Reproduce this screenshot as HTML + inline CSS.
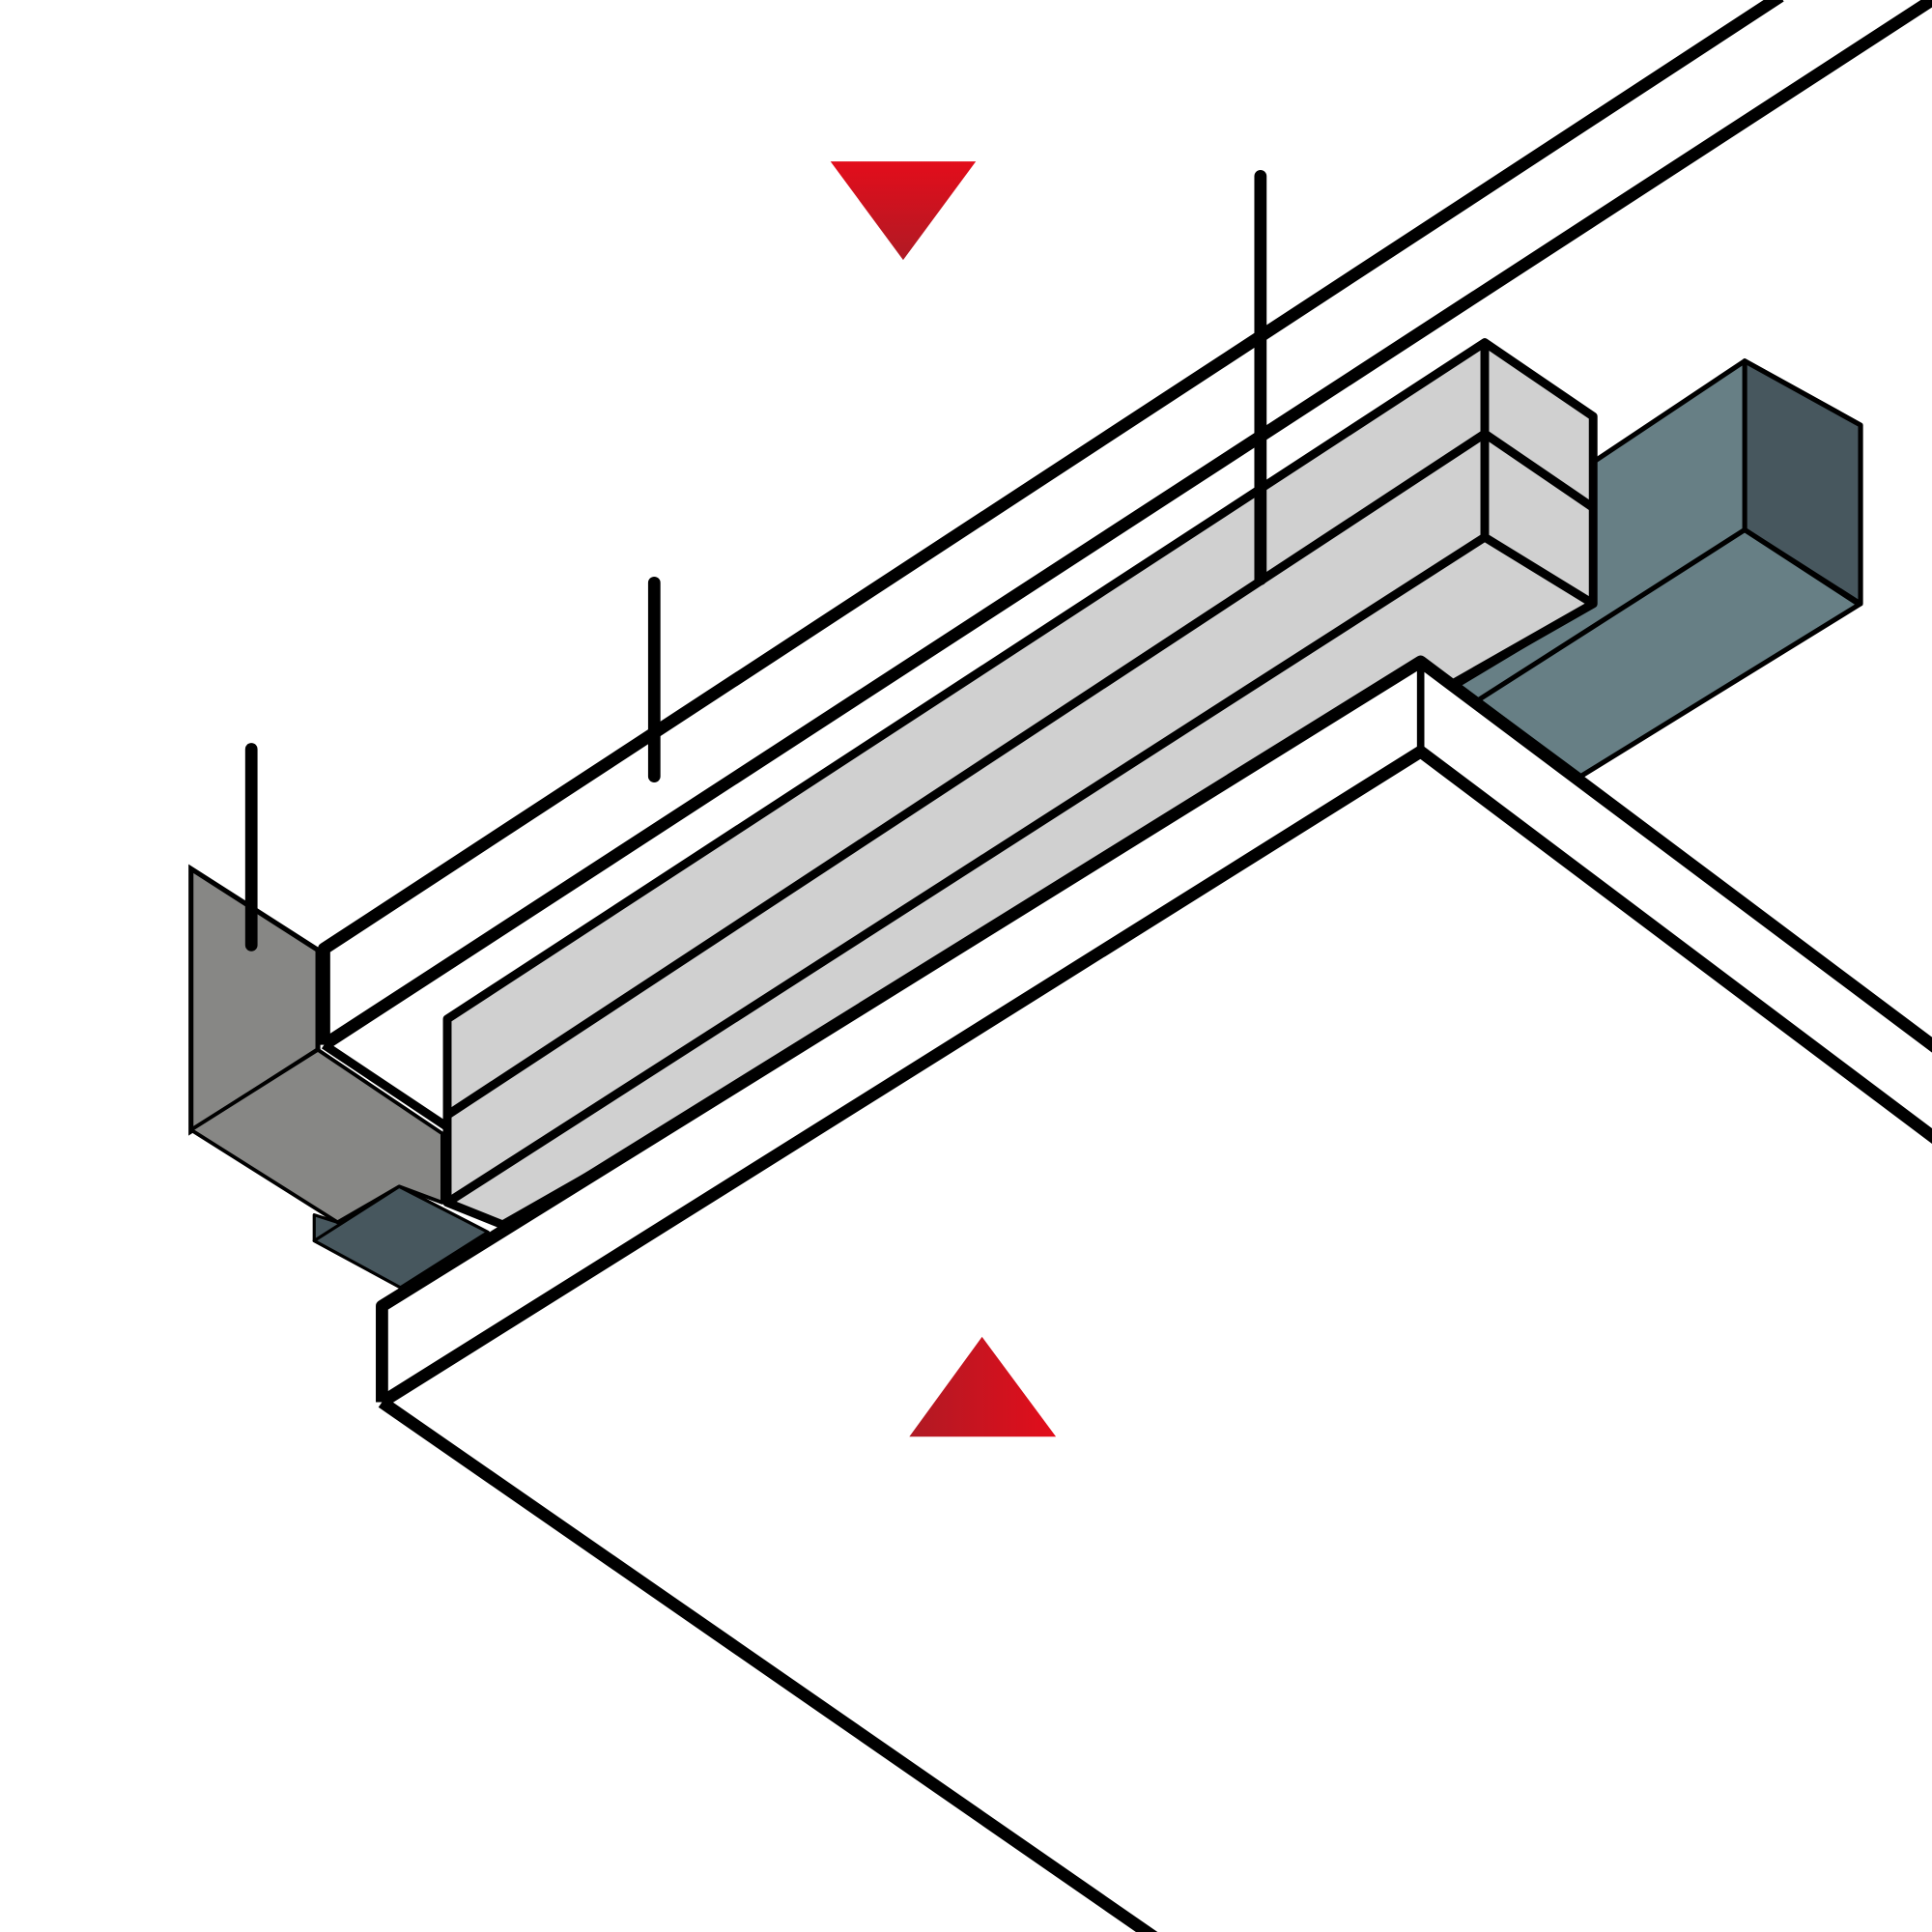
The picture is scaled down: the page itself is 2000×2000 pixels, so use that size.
<!DOCTYPE html>
<html><head><style>html,body{margin:0;padding:0;background:#fff}svg{display:block}</style></head>
<body>
<svg width="2000" height="2000" viewBox="0 0 1568 1568" xmlns="http://www.w3.org/2000/svg">
<defs>
<linearGradient id="g1" x1="0" y1="0" x2="0" y2="1"><stop offset="0" stop-color="#e30d1b"/><stop offset="1" stop-color="#b01a24"/></linearGradient>
<linearGradient id="g2" x1="0" y1="0" x2="1" y2="0"><stop offset="0" stop-color="#b01a24"/><stop offset="1" stop-color="#e30d1b"/></linearGradient>
</defs>
<!-- left gray box -->
<polygon points="155,705 258,771 258,852 155,918" fill="#878785" stroke="#000" stroke-width="4"/>
<polygon points="255,986 255,1007 325,1045 396,1000 324,963 274,992" fill="#47575e" stroke="#000" stroke-width="2.5" stroke-linejoin="round"/>
<polygon points="155,917 258,852 359,920 359,976 324,963 274,992" fill="#878785" stroke="#000" stroke-width="3" stroke-linejoin="round"/>
<polygon points="255,1007 324,963 396,1000 325,1045" fill="#47575e" stroke="#000" stroke-width="2.5" stroke-linejoin="round"/>
<!-- upper white band -->
<polygon points="263,770 1440,0 1568,0 1568,5 263,848" fill="#fff"/>
<polyline points="263,848 263,770 1445,-3" fill="none" stroke="#000" stroke-width="10" stroke-linejoin="round"/>
<line x1="263" y1="848" x2="1568" y2="0" stroke="#000" stroke-width="10"/>
<line x1="263" y1="848" x2="365" y2="916" stroke="#000" stroke-width="7"/>
<!-- teal box -->
<polygon points="1293,375 1416,293 1510,345 1510,490 1283,630 1183,556 1293,490" fill="#677f85" stroke="#000" stroke-width="4" stroke-linejoin="round"/>
<polygon points="1416,293 1510,345 1510,490 1416,430" fill="#47575e" stroke="#000" stroke-width="4" stroke-linejoin="round"/>
<polyline points="1200,568 1416,430 1508,490" fill="none" stroke="#000" stroke-width="4"/>
<!-- light gray beam -->
<polygon points="363,827 1205,278 1293,338 1293,490 408,994 363,976" fill="#d0d0d0" stroke="#000" stroke-width="7" stroke-linejoin="round"/>
<line x1="363" y1="905" x2="1205" y2="352" stroke="#000" stroke-width="7"/>
<line x1="363" y1="976" x2="1205" y2="436" stroke="#000" stroke-width="7"/>
<polyline points="1205,278 1205,436 1293,490" fill="none" stroke="#000" stroke-width="7"/>
<line x1="1205" y1="352" x2="1293" y2="412" stroke="#000" stroke-width="7"/>
<!-- lower white band -->
<polygon points="310,1060 1153,537 1568,848 1568,922 1153,610 310,1138" fill="#fff"/>
<polyline points="310,1138 310,1060 1153,537 1572,851" fill="none" stroke="#000" stroke-width="10" stroke-linejoin="round"/>
<polyline points="310,1138 1153,610 1572,925" fill="none" stroke="#000" stroke-width="10" stroke-linejoin="round"/>
<line x1="1153" y1="540" x2="1153" y2="610" stroke="#000" stroke-width="6"/>
<line x1="310" y1="1138" x2="948" y2="1580" stroke="#000" stroke-width="10"/>
<!-- posts -->
<line x1="1023" y1="143" x2="1023" y2="470" stroke="#000" stroke-width="10" stroke-linecap="round"/>
<line x1="531" y1="473" x2="531" y2="630" stroke="#000" stroke-width="10" stroke-linecap="round"/>
<line x1="204" y1="608" x2="204" y2="767" stroke="#000" stroke-width="10" stroke-linecap="round"/>
<!-- triangles -->
<polygon points="674,131 792,131 733,211" fill="url(#g1)"/>
<polygon points="738,1166 857,1166 797,1085" fill="url(#g2)"/>
</svg>
</body></html>
